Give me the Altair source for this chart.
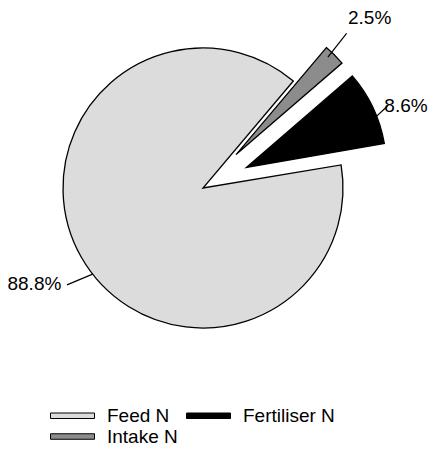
import math
import altair as alt
import pandas as pd

# ---- data ----
categories = ["Feed N", "Intake N", "Fertiliser N"]
shares = [88.8, 2.5, 8.6]
pct_labels = ["88.8%", "2.5%", "8.6%"]

# ---- style ----
fill_colors = ["#dcdcdc", "#8c8c8c", "#000000"]  # matches categories
explode_px = [0, 47, 48]
leader_shift1_deg = [-8.3, -1.4, 4.5]
leader_shift2_deg = [-5.8, -2.3, 1.8]
leader_r1 = [140, 134, 136]
leader_r2 = [167, 164, 154]
label_shift_deg = [0, -0.3, 4.3]
label_r = [194, 191, 171]

CX, CY = 195, 180
R = 140
ROT = math.radians(80.5)
FONT = "Liberation Sans"

df = pd.DataFrame({
    "cat": categories, "share": shares, "label": pct_labels, "idx": list(range(len(categories))),
    "explode": explode_px, "ls1": leader_shift1_deg, "ls2": leader_shift2_deg,
    "lr1": leader_r1, "lr2": leader_r2, "tshift": label_shift_deg, "tr": label_r,
})

base = alt.Chart(df).transform_window(
    cum="sum(share)", sort=[alt.SortField("idx")], frame=[None, 0]
).transform_calculate(
    start="datum.cum - datum.share",
    mid=f"{ROT} + 2*PI*(datum.cum - datum.share/2)/100",
).transform_calculate(
    cx=f"{CX} + datum.explode*sin(datum.mid)",
    cy=f"{CY} - datum.explode*cos(datum.mid)",
    la1="datum.mid + datum.ls1*PI/180",
    la2="datum.mid + datum.ls2*PI/180",
    ta="datum.mid + datum.tshift*PI/180",
).transform_calculate(
    lx1="datum.cx + datum.lr1*sin(datum.la1)",
    ly1="datum.cy - datum.lr1*cos(datum.la1)",
    lx2="datum.cx + datum.lr2*sin(datum.la2)",
    ly2="datum.cy - datum.lr2*cos(datum.la2)",
    tx="datum.cx + datum.tr*sin(datum.ta)",
    ty="datum.cy - datum.tr*cos(datum.ta)",
)

theta_scale = alt.Scale(domain=[0, 100], range=[ROT, ROT + 2 * math.pi])

arcs = base.mark_arc(outerRadius=R, stroke="black", strokeWidth=1.3).encode(
    theta=alt.Theta("start:Q", scale=theta_scale, stack=None),
    theta2="cum:Q",
    x=alt.X("cx:Q", scale=None),
    y=alt.Y("cy:Q", scale=None),
    color=alt.Color(
        "cat:N",
        scale=alt.Scale(domain=categories, range=fill_colors),
        legend=alt.Legend(
            orient="none", legendX=38, legendY=398, columns=2, title=None,
            symbolType="M-1,-0.55H7.8V0.55H-1Z", symbolSize=100,
            symbolStrokeColor="black", symbolStrokeWidth=1,
            labelFont=FONT, labelFontSize=19, labelColor="black",
            labelOffset=42, columnPadding=4, rowPadding=1, padding=0,
        ),
    ),
)

leaders = base.mark_rule(color="black", strokeWidth=1.2).encode(
    x=alt.X("lx1:Q", scale=None), y=alt.Y("ly1:Q", scale=None),
    x2="lx2:Q", y2="ly2:Q",
)

texts = base.mark_text(font=FONT, fontSize=19, baseline="middle", align="center", color="black").encode(
    x=alt.X("tx:Q", scale=None), y=alt.Y("ty:Q", scale=None), text="label:N",
)

chart = alt.layer(arcs, leaders, texts).properties(
    width=420, height=439, autosize=alt.AutoSizeParams(type="none"), padding=0,
).configure_view(stroke=None)

chart.save("out.html", embed_options={"renderer": "svg", "actions": False})
